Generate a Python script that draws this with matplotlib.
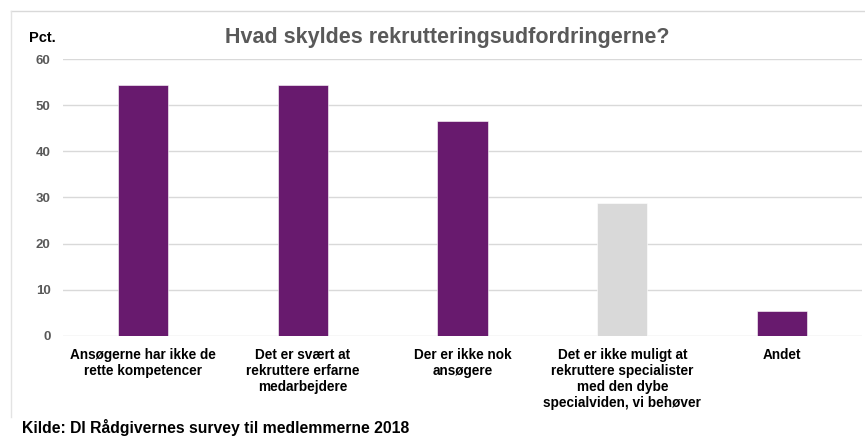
import matplotlib
matplotlib.use("Agg")
import matplotlib.pyplot as plt
from matplotlib.lines import Line2D

plt.rcParams['font.family'] = ['Liberation Sans', 'DejaVu Sans']

# data
categories = [
    "Ansøgerne har ikke de\nrette kompetencer",
    "Det er svært at\nrekruttere erfarne\nmedarbejdere",
    "Der er ikke nok\nansøgere",
    "Det er ikke muligt at\nrekruttere specialister\nmed den dybe\nspecialviden, vi behøver",
    "Andet",
]
values = [54.5, 54.5, 46.7, 28.7, 5.4]
bar_colors = ["#681a6e", "#681a6e", "#681a6e", "#d9d9d9", "#681a6e"]
yticks = [0, 10, 20, 30, 40, 50, 60]

title = "Hvad skyldes rekrutteringsudfordringerne?"
source = "Kilde: DI Rådgivernes survey til medlemmerne 2018"

fig = plt.figure(figsize=(8.65, 4.36), dpi=100)
W, H = 865, 436
ax = fig.add_axes([63 / W, 1 - 335.7 / H, 799 / W, 276.4 / H])

x = list(range(len(categories)))
ax.bar(x, values, width=0.313, color=bar_colors, edgecolor="#ffffff",
       linewidth=0.4, zorder=3)

ax.set_xlim(-0.5, len(categories) - 0.5)
ax.set_ylim(0, 60)
ax.set_yticks(yticks)
ax.set_yticklabels([str(t) for t in yticks], fontsize=9.5, fontweight="bold",
                   color="#595959")
ax.set_xticks(x)
ax.set_xticklabels(categories, fontsize=9.8, fontweight="bold", color="black",
                   linespacing=1.2, va="top")
ax.tick_params(axis="both", length=0)
ax.tick_params(axis="y", pad=9)
ax.tick_params(axis="x", pad=8.5)
ax.grid(axis="y", color="#d9d9d9", linewidth=1, zorder=0)
for s in ax.spines.values():
    s.set_visible(False)

# outer frame (top and left only)
fig.add_artist(Line2D([11 / W, 1], [1 - 11 / H, 1 - 11 / H], color="#d9d9d9",
                      linewidth=1, transform=fig.transFigure))
fig.add_artist(Line2D([11 / W, 11 / W], [1 - 11 / H, 1 - 417 / H], color="#e3e3e3",
                      linewidth=1, transform=fig.transFigure))

fig.text(447 / W, 1 - 37 / H, title, ha="center", va="center", fontsize=15.5,
         fontweight="bold", color="#595959")
fig.text(29 / W, 1 - 38 / H, "Pct.", ha="left", va="center", fontsize=10.5,
         fontweight="bold", color="black")
fig.text(22 / W, 1 - 427 / H, source, ha="left", va="center", fontsize=11.3,
         fontweight="bold", color="black")

fig.savefig("out.png", dpi=100)
